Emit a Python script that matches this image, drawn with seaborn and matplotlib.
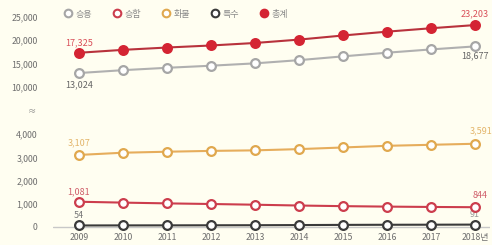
import numpy as np
import matplotlib
matplotlib.use("Agg")
import matplotlib.pyplot as plt
import seaborn as sns
from matplotlib.lines import Line2D

sns.set_style("white")
plt.rcParams['font.family'] = ['Noto Sans CJK KR', 'DejaVu Sans']

years = [2009, 2010, 2011, 2012, 2013, 2014, 2015, 2016, 2017, 2018]
year_labels = ['2009', '2010', '2011', '2012', '2013', '2014', '2015', '2016', '2017', '2018년']
total = [17325, 17941, 18437, 18870, 19401, 20118, 20990, 21803, 22528, 23203]
passenger = [13024, 13632, 14136, 14578, 15078, 15758, 16562, 17338, 18035, 18677]
truck = [3107, 3203, 3246, 3282, 3305, 3359, 3430, 3502, 3546, 3591]
van = [1081, 1043, 1010, 983, 952, 917, 890, 870, 855, 844]
special = [54, 57, 59, 62, 65, 71, 79, 84, 87, 91]

names = ['승용', '승합', '화물', '특수', '총계']
top_ticks = [10000, 15000, 20000, 25000]
bottom_ticks = [0, 1000, 2000, 3000, 4000]

bg = '#fffef1'
c_total = '#d42433'
c_total_line = '#b8323c'
c_pass = '#b0b0b0'
c_van = '#cc3d4d'
c_truck = '#e6ad5c'
c_spec = '#3a3a3a'

fig = plt.figure(figsize=(4.92, 2.45), dpi=100)
fig.patch.set_facecolor(bg)

x0, xw = 53 / 492, 437 / 492
ax_top = fig.add_axes([x0, 1 - 92 / 245, xw, 82 / 245])
ax_bot = fig.add_axes([x0, 1 - 232 / 245, xw, 104 / 245])

for ax in (ax_top, ax_bot):
    ax.set_facecolor(bg)
    sns.despine(ax=ax, left=True, bottom=True, top=True, right=True)
    ax.set_xlim(2008.41, 2018.34)
    ax.tick_params(length=0, labelsize=6.3, colors='#6e6e6e')
    ax.set_ylabel('')
    ax.set_xlabel('')


def draw(ax, vals, line_c, edge_c, face_c, z=3):
    sns.lineplot(x=years, y=vals, ax=ax, color=line_c, linewidth=1.5,
                 marker='o', markersize=6.3, markerfacecolor=face_c,
                 markeredgecolor=edge_c, markeredgewidth=1.6, zorder=z)


draw(ax_top, passenger, c_pass, '#a6a6a6', 'white')
draw(ax_top, total, c_total_line, c_total, c_total)
ax_top.set_ylim(9000, 26400)
ax_top.set_yticks(top_ticks)
ax_top.set_yticklabels([f'{t:,}' for t in top_ticks])
ax_top.set_xticks([])
ax_top.tick_params(axis='y', pad=11)

ax_bot.axhline(0, color='#c8c8c8', linewidth=1, zorder=1)
draw(ax_bot, truck, c_truck, '#e0a84e', 'white')
draw(ax_bot, special, c_spec, c_spec, 'white', z=3)
draw(ax_bot, van, c_van, c_van, 'white', z=4)
ax_bot.set_ylim(-229, 4273)
ax_bot.set_yticks(bottom_ticks)
ax_bot.set_yticklabels([f'{t:,}' for t in bottom_ticks])
ax_bot.set_xticks(years)
ax_bot.set_xticklabels(year_labels)
ax_bot.tick_params(axis='y', pad=11)
ax_bot.tick_params(axis='x', pad=1)


def label(ax, x, y, txt, color, dy, dx=0, z=5):
    ax.annotate(txt, (x, y), xytext=(dx, dy), textcoords='offset points',
                ha='center', va='center', fontsize=6.5, color=color, zorder=z)


label(ax_top, years[0], total[0], f'{total[0]:,}', '#d9505a', 7.5)
label(ax_top, years[-1], total[-1], f'{total[-1]:,}', '#d9505a', 8)
label(ax_top, years[0], passenger[0], f'{passenger[0]:,}', '#666666', -8.5)
label(ax_top, years[-1], passenger[-1], f'{passenger[-1]:,}', '#666666', -7)
label(ax_bot, years[0], truck[0], f'{truck[0]:,}', '#e3b56a', 8.5)
label(ax_bot, years[-1], truck[-1], f'{truck[-1]:,}', '#e3b56a', 9, dx=4)
label(ax_bot, years[0], van[0], f'{van[0]:,}', '#d0606c', 7.5)
label(ax_bot, years[-1], van[-1], f'{van[-1]:,}', '#d0606c', 8.5, dx=4)
label(ax_bot, years[0], special[0], f'{special[0]:,}', '#777777', 7.5)
label(ax_bot, years[-1], special[-1], f'{special[-1]:,}', '#999999', 7.5, z=2)

fig.text(32 / 492, 1 - 112 / 245, '≈', fontsize=6, color='#888888',
         ha='center', va='center')

handles = [
    Line2D([], [], linestyle='', marker='o', markersize=5.5, markerfacecolor='white',
           markeredgecolor='#a6a6a6', markeredgewidth=1.5),
    Line2D([], [], linestyle='', marker='o', markersize=5.5, markerfacecolor='white',
           markeredgecolor=c_van, markeredgewidth=1.5),
    Line2D([], [], linestyle='', marker='o', markersize=5.5, markerfacecolor='white',
           markeredgecolor='#e0a84e', markeredgewidth=1.5),
    Line2D([], [], linestyle='', marker='o', markersize=5.5, markerfacecolor='white',
           markeredgecolor=c_spec, markeredgewidth=1.5),
    Line2D([], [], linestyle='', marker='o', markersize=5.5, markerfacecolor=c_total,
           markeredgecolor=c_total, markeredgewidth=1.5),
]
leg = fig.legend(handles, names, loc='center left', bbox_to_anchor=(63 / 492, 1 - 14 / 245),
                 ncol=5, frameon=False, fontsize=6.5, handletextpad=0.4,
                 columnspacing=2.2, handlelength=1.0, borderpad=0, borderaxespad=0)
for t in leg.get_texts():
    t.set_color('#888888')

fig.savefig('out.png', dpi=100, facecolor=bg)
